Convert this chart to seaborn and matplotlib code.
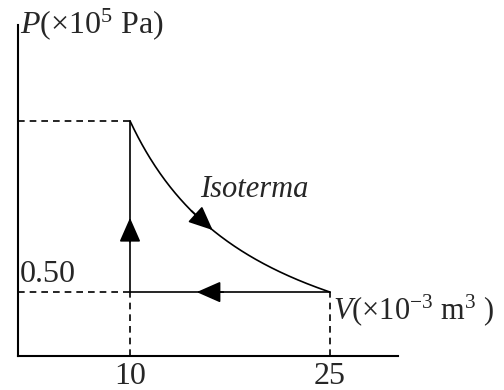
import numpy as np
import pandas as pd
import matplotlib
matplotlib.use("Agg")
import matplotlib.pyplot as plt
import seaborn as sns

# State points of the cycle (V in 10^-3 m^3, P in 10^5 Pa)
volumes = [10, 25]
p_low = 0.50
p_labels = ["0.50"]
v_labels = ["10", "25"]

v_a, v_b = volumes
# Isothermal: P*V constant through the point (25, 0.50)
p_high = p_low * v_b / v_a

sns.set_style("white")
plt.rcParams["font.family"] = ["Liberation Serif", "DejaVu Serif"]
plt.rcParams["mathtext.fontset"] = "custom"
plt.rcParams["mathtext.rm"] = "Liberation Serif"
plt.rcParams["mathtext.it"] = "Liberation Serif:italic"

fig = plt.figure(figsize=(5.04, 3.90), dpi=100)
ax = fig.add_axes([18 / 504, 34 / 390, 380 / 504, 331 / 390])

x_lo, x_hi = 1.6, 30.1
y_lo, y_hi = 0.22, 1.67

lw = 1.2
line = dict(ax=ax, color="black", lw=lw, sort=False, estimator=None)

# Isotherm curve
v_curve = np.linspace(v_a, v_b, 200)
iso = pd.DataFrame({"V": v_curve, "P": p_low * v_b / v_curve})
sns.lineplot(data=iso, x="V", y="P", **line)

# Isobaric compression and isochoric heating
iso_p = pd.DataFrame({"V": [v_b, v_a], "P": [p_low, p_low]})
iso_v = pd.DataFrame({"V": [v_a, v_a], "P": [p_low, p_high]})
sns.lineplot(data=iso_p, x="V", y="P", **line)
sns.lineplot(data=iso_v, x="V", y="P", **line)

# Dashed guide lines to the axes
dash = dict(color="black", lw=lw, ls=(0, (4, 3)))
ax.plot([x_lo, v_a], [p_high, p_high], **dash)
ax.plot([x_lo, v_a], [p_low, p_low], **dash)
ax.plot([v_a, v_a], [y_lo, p_low], **dash)
ax.plot([v_b, v_b], [y_lo, p_low], **dash)

# Direction arrows
head = dict(arrowstyle="-|>,head_length=0.75,head_width=0.33",
            mutation_scale=20, color="black", lw=lw,
            shrinkA=0, shrinkB=0)
ax.annotate("", xy=(15.0, p_low), xytext=(17.0, p_low), arrowprops=head)
ax.annotate("", xy=(v_a, 0.825), xytext=(v_a, 0.72), arrowprops=head)
v_tip, v_tail = 16.2, 14.6
ax.annotate("", xy=(v_tip, p_low * v_b / v_tip),
            xytext=(v_tail, p_low * v_b / v_tail), arrowprops=head)

ax.set_xlim(x_lo, x_hi)
ax.set_ylim(y_lo, y_hi)
ax.set_xticks(volumes)
ax.set_xticklabels(v_labels, fontsize=23)
ax.set_yticks([])
ax.tick_params(axis="x", length=0, pad=4)
ax.set_xlabel("")
ax.set_ylabel("")

for side in ["top", "right"]:
    ax.spines[side].set_visible(False)
for side in ["left", "bottom"]:
    ax.spines[side].set_linewidth(1.5)
    ax.spines[side].set_color("black")

ax.text(1.7, 0.544, p_labels[0], fontsize=23, ha="left", va="baseline")
ax.text(15.25, 0.917, "Isoterma", fontsize=22, style="italic",
        ha="left", va="baseline")
ax.text(25.2, 0.382, r"$V$(×10$^{-3}$ m$^{3}$ )", fontsize=22,
        ha="left", va="baseline", clip_on=False)
ax.text(1.75, 1.636, r"$P$(×10$^{5}$ Pa)", fontsize=23,
        ha="left", va="baseline", clip_on=False)

fig.savefig("out.png", dpi=100)
